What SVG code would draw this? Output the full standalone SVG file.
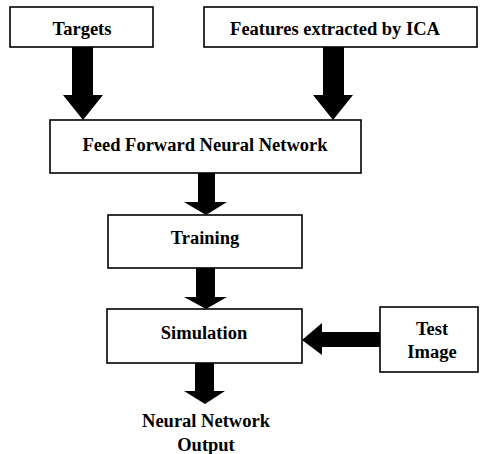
<svg xmlns="http://www.w3.org/2000/svg" width="480" height="454" viewBox="0 0 480 454">
<style>
.box{fill:#fff;stroke:#000;stroke-width:1.6}
.t{font-family:'Liberation Serif','Times New Roman',Times,'DejaVu Serif',serif;font-weight:bold;font-size:18.5px;text-anchor:middle;fill:#000}
.arr{fill:#000;stroke:none}
</style>
<rect width="480" height="454" fill="#fff"/>
<g id="connectors">
<polygon class="arr" points="72,47 93,47 93,95 103,95 83,120 63,95 72,95"/>
<polygon class="arr" points="323,47 344,47 344,95 353,95 333,120 313,95 323,95"/>
<polygon class="arr" points="198,173 215,173 215,202 227,202 206,215 184,202 198,202"/>
<polygon class="arr" points="196,268 215,268 215,297 227,297 206,309 184,297 196,297"/>
<polygon class="arr" points="380,332 380,347 322,347 322,355 302,340 322,323 322,332"/>
<polygon class="arr" points="195,363 214,363 214,391 225,391 205,404 184,391 195,391"/>
</g>
<g id="targets">
<rect class="box" x="10" y="7" width="143" height="40"/>
<text class="t" x="82" y="35">Targets</text>
</g>
<g id="features">
<rect class="box" x="204" y="7" width="273" height="40"/>
<text class="t" x="335" y="35">Features extracted by ICA</text>
</g>
<g id="ffnn">
<rect class="box" x="50" y="120" width="311" height="53"/>
<text class="t" x="205" y="151">Feed Forward Neural Network</text>
</g>
<g id="training">
<rect class="box" x="108" y="215" width="194" height="53"/>
<text class="t" x="205" y="244">Training</text>
</g>
<g id="simulation">
<rect class="box" x="107" y="309" width="195" height="54"/>
<text class="t" x="204" y="339">Simulation</text>
</g>
<g id="test">
<rect class="box" x="380" y="307" width="98" height="65"/>
<text class="t" x="432" y="335">Test</text>
<text class="t" x="432" y="358">Image</text>
</g>
<g id="output">
<text class="t" x="206" y="427">Neural Network</text>
<text class="t" x="206" y="451">Output</text>
</g>
</svg>
